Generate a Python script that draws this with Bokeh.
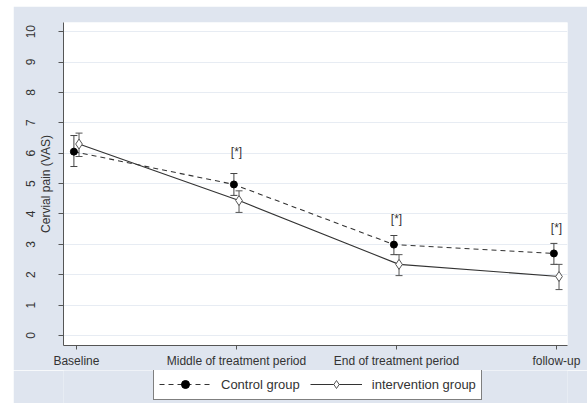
import numpy as np
from bokeh.plotting import figure
from bokeh.layouts import column
from bokeh.models import (ColumnDataSource, Range1d, LinearAxis, FixedTicker, Grid,
                          Whisker, TeeHead, Legend, LegendItem)
from bokeh.transform import dodge
from bokeh.core.properties import value
from bokeh.embed import file_html
from bokeh.resources import INLINE

# ---- data ----
timepoints = ["Baseline", "Middle of treatment period", "End of treatment period", "follow-up"]
control_mean = [6.05, 4.97, 2.99, 2.70]
control_lower = [5.56, 4.61, 2.66, 2.34]
control_upper = [6.58, 5.33, 3.29, 3.03]
intervention_mean = [6.30, 4.44, 2.34, 1.94]
intervention_lower = [5.89, 4.05, 1.97, 1.51]
intervention_upper = [6.66, 4.76, 2.66, 2.34]
sig_marks = ["", "[*]", "[*]", "[*]"]
sig_y = [np.nan, 6.05, 3.82, 3.55]
y_ticks = [0, 1, 2, 3, 4, 5, 6, 7, 8, 9, 10]
y_title = "Cervial pain (VAS)"
series_names = ["Control group", "intervention group"]

FONT = "Liberation Sans"
PANEL = "#dfe5ef"
AX = "#555555"
TXT = "#333333"

CTRL_LINE = dict(line_color="#333333", line_width=1.1, line_dash="5 4")
INTV_LINE = dict(line_color="#333333", line_width=1.1)
CTRL_MARK = dict(marker="circle", size=7, fill_color="black", line_color="black")
INTV_MARK = dict(marker="diamond", size=10, fill_color="white", line_color="#555555", line_width=1)

xpos = list(range(len(timepoints)))
ctrl = ColumnDataSource(dict(x=xpos, m=control_mean, lo=control_lower, hi=control_upper))
intv = ColumnDataSource(dict(x=xpos, m=intervention_mean, lo=intervention_lower, hi=intervention_upper))
sig = ColumnDataSource(dict(x=xpos, y=sig_y, t=sig_marks))

p = figure(frame_width=504, frame_height=323, output_backend="svg", toolbar_location=None,
           x_range=Range1d(-0.081, 3.069), y_range=Range1d(-0.33, 10.3),
           x_axis_location=None, y_axis_location=None,
           min_border_left=50, min_border_right=20, min_border_top=16, min_border_bottom=0)
p.border_fill_color = PANEL
p.background_fill_color = "white"
p.outline_line_color = None
p.center = [r for r in p.center if not isinstance(r, Grid)]

yt = FixedTicker(ticks=y_ticks)
p.add_layout(Grid(dimension=1, ticker=yt, grid_line_color="#e7ecf3", grid_line_width=1))

# axis A: line + ticks (no labels)
axA = LinearAxis(ticker=yt, axis_line_color=AX, major_tick_line_color=AX,
                 major_tick_out=5, major_tick_in=0, minor_tick_line_color=None,
                 major_label_overrides={t: "" for t in y_ticks}, major_label_standoff=0)
p.add_layout(axA, "left")
# axis B: title only
axB = LinearAxis(ticker=FixedTicker(ticks=[]), axis_line_color=None,
                 major_tick_line_color=None, minor_tick_line_color=None,
                 major_tick_out=0, major_tick_in=0, major_label_standoff=0,
                 axis_label=y_title, axis_label_standoff=6,
                 axis_label_text_font=FONT, axis_label_text_font_size="12px",
                 axis_label_text_font_style="normal", axis_label_text_color=TXT)
p.add_layout(axB, "left")
# axis C: tick labels only
axC = LinearAxis(ticker=yt, axis_line_color=None, major_tick_line_color=None,
                 minor_tick_line_color=None, major_tick_out=0, major_tick_in=0,
                 major_label_standoff=0, major_label_orientation="vertical",
                 major_label_text_font=FONT, major_label_text_font_size="12px",
                 major_label_text_color=TXT)
p.add_layout(axC, "left")

xaxis = LinearAxis(ticker=FixedTicker(ticks=xpos),
                   major_label_overrides={i: t for i, t in enumerate(timepoints)},
                   axis_line_color=AX, major_tick_line_color=AX, major_tick_out=4,
                   major_tick_in=0, minor_tick_line_color=None, major_label_standoff=4,
                   major_label_text_font=FONT, major_label_text_font_size="12px",
                   major_label_text_color=TXT)
p.add_layout(xaxis, "below")

off = 0.016
# error bars
p.add_layout(Whisker(source=ctrl, base=dodge("x", -off), upper="hi", lower="lo",
                     line_color="#444444", line_width=1,
                     upper_head=TeeHead(size=7, line_color="#444444"),
                     lower_head=TeeHead(size=7, line_color="#444444")))
p.add_layout(Whisker(source=intv, base=dodge("x", off), upper="hi", lower="lo",
                     line_color="#555555", line_width=1,
                     upper_head=TeeHead(size=7, line_color="#555555"),
                     lower_head=TeeHead(size=7, line_color="#555555")))

p.line(dodge("x", -off), "m", source=ctrl, **CTRL_LINE)
p.line(dodge("x", off), "m", source=intv, **INTV_LINE)
p.scatter(dodge("x", -off), "m", source=ctrl, **CTRL_MARK)
p.scatter(dodge("x", off), "m", source=intv, **INTV_MARK)

p.text("x", "y", text="t", source=sig, text_align="center", text_baseline="middle",
       text_font=value(FONT), text_font_size="12px", text_color=TXT)

# ---- legend strip (separate figure, same series; data lies outside its view) ----
leg = figure(width=574, height=34, output_backend="svg", toolbar_location=None,
             x_range=Range1d(-0.081, 3.069), y_range=Range1d(-20, -19),
             x_axis_location=None, y_axis_location=None,
             min_border_left=0, min_border_right=0, min_border_top=0, min_border_bottom=0)
leg.border_fill_color = PANEL
leg.background_fill_color = PANEL
leg.outline_line_color = None
leg.grid.visible = False
lc = leg.line("x", "m", source=ctrl, **CTRL_LINE)
sc = leg.scatter("x", "m", source=ctrl, **CTRL_MARK)
li = leg.line("x", "m", source=intv, **INTV_LINE)
si = leg.scatter("x", "m", source=intv, **INTV_MARK)

legend = Legend(items=[LegendItem(label=series_names[0], renderers=[lc, sc], index=0),
                       LegendItem(label=series_names[1], renderers=[li, si], index=0)],
                orientation="horizontal", location=(90, 4),
                border_line_color="black", border_line_width=1,
                background_fill_color="white", background_fill_alpha=1,
                glyph_width=52, label_standoff=10, spacing=10,
                padding=5, margin=0, label_text_font=FONT, label_text_font_size="13px",
                label_text_color=TXT)
leg.add_layout(legend)

layout = column(p, leg, spacing=0, margin=(6, 0, 0, 13))
open("out.html", "w").write(file_html(layout, INLINE))
